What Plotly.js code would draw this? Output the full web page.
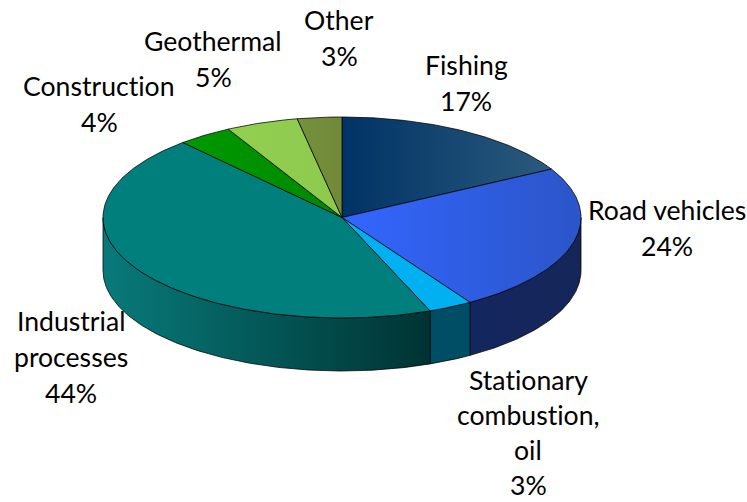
<!DOCTYPE html>
<html><head><meta charset="utf-8">
<script src="https://cdn.plot.ly/plotly-3.0.1.min.js"></script>
<style>html,body{margin:0;padding:0;background:#fff}#c{width:747px;height:502px}
text{font-variant-ligatures:none;font-feature-settings:"liga" 0}</style>
</head><body><div id="c"></div>
<script>
const categories = ["Fishing","Road vehicles","Stationary combustion, oil","Industrial processes","Construction","Geothermal","Other"];
const values = [17, 24, 3, 44.4, 3.7, 4.9, 3.0];
const labelLines = [["Fishing"],["Road vehicles"],["Stationary","combustion,","oil"],["Industrial","processes"],["Construction"],["Geothermal"],["Other"]];

// styles and layout (separate from the data)
const topColors = [["#003366","#2b5a7c"],["#3366ff","#2b55c8"],["#00b0f0","#00b0f0"],["#007f7d","#007f7d"],["#009900","#008800"],["#92d050","#8ec94e"],["#76923c","#70893a"]];
const sideColors = [null,["#14265f","#142659"],["#004d66","#004d66"],["#087a7a","#003333"],null,null,null];
const labelPos = [[466,65],[666.5,210],[528,380],[71,321],[99,86],[213,41],[339,20]];
const lineGaps = [36,36,35,36,36,36,36];
const cx=342, cy=217.5, rx=239, ry=100.5, depth=53;

const total = values.reduce((a,b)=>a+b,0);
const px = a => cx + rx*Math.sin(a);
const py = a => cy - ry*Math.cos(a);
function arc(a0,a1){const n=Math.max(2,Math.ceil(Math.abs(a1-a0)/0.01));const o=[];for(let i=0;i<=n;i++)o.push(a0+(a1-a0)*i/n);return o;}

const sides=[], tops=[], annotations=[];
let cum=0;
values.forEach((v,i)=>{
  const a0=cum/total*2*Math.PI; cum+=v; const a1=cum/total*2*Math.PI;
  const lo=Math.max(a0,Math.PI/2), hi=Math.min(a1,3*Math.PI/2);
  if(hi>lo && sideColors[i]){
    const as=arc(lo,hi), back=as.slice().reverse();
    sides.push({type:"scatter",mode:"lines",hoverinfo:"skip",showlegend:false,fill:"toself",
      x:as.map(px).concat(back.map(px),[px(lo)]),
      y:as.map(a=>py(a)).concat(back.map(a=>py(a)+depth),[py(lo)]),
      line:{color:"#000",width:0.75},
      fillgradient:{type:"horizontal",colorscale:[[0,sideColors[i][0]],[1,sideColors[i][1]]]}});
  }
  const as=arc(a0,a1);
  tops.push({type:"scatter",mode:"lines",name:categories[i],hoverinfo:"skip",showlegend:false,fill:"toself",
    x:[cx].concat(as.map(px),[cx]),
    y:[cy].concat(as.map(py),[cy]),
    line:{color:"#000",width:0.75},
    fillgradient:{type:"horizontal",colorscale:[[0,topColors[i][0]],[1,topColors[i][1]]]}});
  const lines=labelLines[i].concat([Math.round(v/total*100)+"%"]);
  lines.forEach((t,k)=>annotations.push({x:labelPos[i][0],y:labelPos[i][1]+k*lineGaps[i],text:t,showarrow:false,
    xref:"x",yref:"y",xanchor:"center",yanchor:"middle",font:{family:"Lato, Carlito, sans-serif",size:26.6,color:"#000"}}));
});

Plotly.newPlot("c",sides.concat(tops),{
  width:747,height:502,margin:{l:0,r:0,t:0,b:0},paper_bgcolor:"#fff",plot_bgcolor:"#fff",showlegend:false,
  xaxis:{range:[0,747],visible:false,fixedrange:true},
  yaxis:{range:[502,0],visible:false,fixedrange:true},
  annotations
},{displayModeBar:false,staticPlot:true});
</script></body></html>
